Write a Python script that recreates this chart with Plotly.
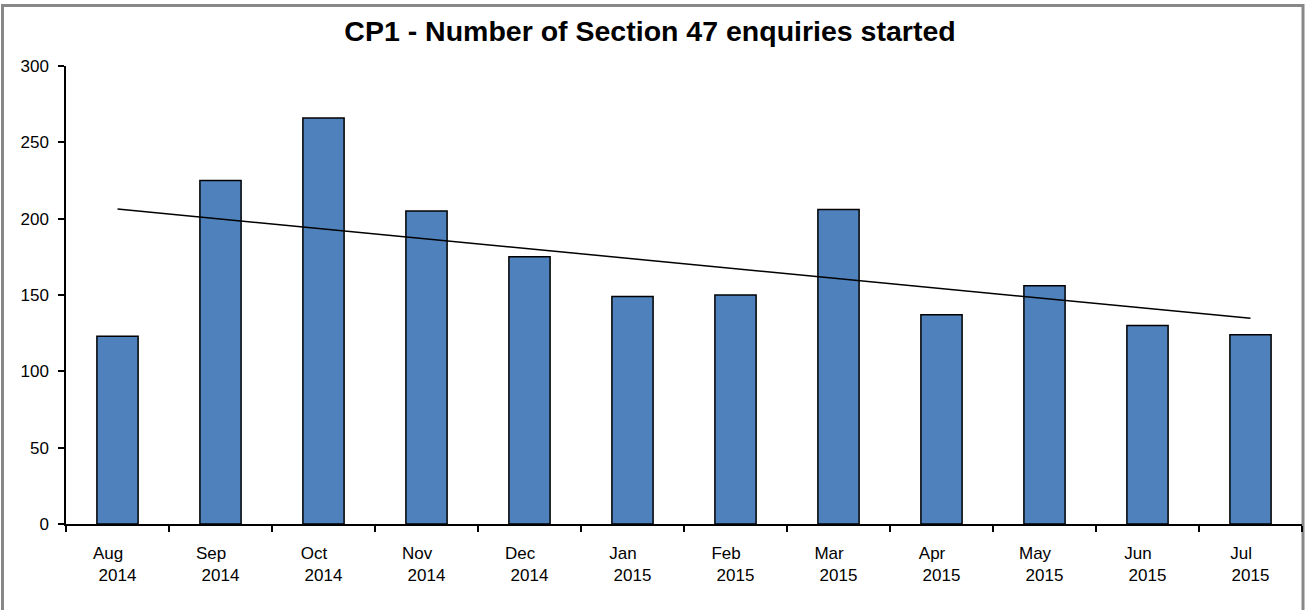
import numpy as np
import plotly.graph_objects as go

months = ["Aug", "Sep", "Oct", "Nov", "Dec", "Jan", "Feb", "Mar", "Apr", "May", "Jun", "Jul"]
years = ["2014", "2014", "2014", "2014", "2014", "2015", "2015", "2015", "2015", "2015", "2015", "2015"]
values = [123, 225, 266, 205, 175, 149, 150, 206, 137, 156, 130, 124]
y_ticks = [0, 50, 100, 150, 200, 250, 300]

W, H = 1305, 610
L, R, T, B = 66, 3, 66, 86
pw, ph = W - L - R, H - T - B

cats = [f"{m} {y}" for m, y in zip(months, years)]
labels = [f"{m}" + "&nbsp;" * 4 + f"<br>{y}" for m, y in zip(months, years)]

idx = np.arange(len(values))
slope, intercept = np.polyfit(idx, values, 1)
trend = slope * idx + intercept

fig = go.Figure()
fig.add_trace(go.Bar(
    x=cats, y=values, width=0.4,
    marker=dict(color="#4F81BD", line=dict(color="black", width=1.5)),
    showlegend=False,
))
fig.add_trace(go.Scatter(
    x=cats, y=trend, mode="lines",
    line=dict(color="black", width=1.5),
    showlegend=False,
))

def px_x(px):
    return (px - L) / pw

def px_y(py):
    return (H - B - py) / ph

fig.add_shape(type="rect", xref="paper", yref="paper",
              x0=px_x(2.5), x1=px_x(1303), y0=px_y(620), y1=px_y(5.5),
              line=dict(color="#888888", width=3), layer="below")

fig.update_layout(
    width=W, height=H,
    margin=dict(l=L, r=R, t=T, b=B),
    paper_bgcolor="white", plot_bgcolor="white",
    font=dict(family="Liberation Sans, Arial, sans-serif", size=17, color="black"),
    title=dict(text="<b>CP1 - Number of Section 47 enquiries started</b>",
               x=px_x(650), xref="paper", xanchor="center",
               y=1 - 31 / H, yanchor="middle",
               font=dict(size=28.5, color="black")),
    bargap=0.6,
    xaxis=dict(
        tickmode="array", tickvals=cats, ticktext=labels,
        showline=True, linecolor="black", linewidth=1.5,
        ticks="outside", ticklen=6, tickcolor="black", tickwidth=1.5,
        tickson="boundaries", showgrid=False, zeroline=False,
        tickangle=0, ticklabelstandoff=13,
    ),
    yaxis=dict(
        range=[0, 300], tickvals=y_ticks,
        showline=True, linecolor="black", linewidth=1.5,
        ticks="outside", ticklen=6, tickcolor="black", tickwidth=1.5,
        showgrid=False, zeroline=False, ticklabelstandoff=6,
    ),
)

fig.write_html("out.html", config={"displayModeBar": False},
               post_script="document.body.style.margin='0';")
